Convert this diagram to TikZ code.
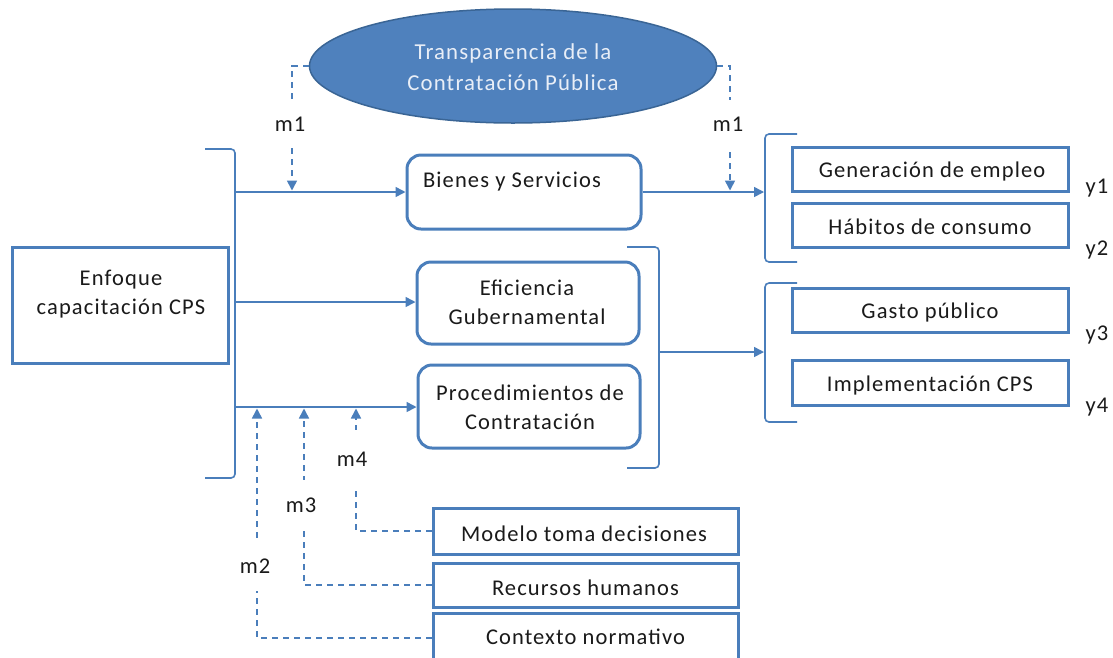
\documentclass[tikz,border=0pt]{standalone}
\usepackage{fontspec}
\setmainfont{Carlito}[LetterSpace=5]
\usetikzlibrary{arrows.meta,shapes.geometric}
\definecolor{ln}{HTML}{4A7EBB}
\definecolor{ellfill}{HTML}{4F81BD}
\definecolor{elldraw}{HTML}{3A6595}
\definecolor{etext}{HTML}{E8EEF7}
\definecolor{tx}{HTML}{1A1A1A}
\begin{document}
\begin{tikzpicture}[x=1pt,y=-1pt,
  font=\fontsize{22.5}{29}\selectfont,
  box/.style={draw=ln, line width=3pt, inner sep=0pt},
  rbox/.style={box, rounded corners=14pt},
  txt/.style={text=tx, align=center, inner sep=0pt},
  conn/.style={draw=ln, line width=1.6pt, -{Triangle[length=10pt,width=10pt]}},
  brk/.style={draw=ln, line width=1.6pt, rounded corners=4pt},
  dsh/.style={draw=ln, line width=1.6pt, dash pattern=on 6pt off 5pt},
  dsharr/.style={dsh, -{Triangle[length=10pt,width=10pt]}},
  lab/.style={text=tx, fill=white, inner sep=0pt, minimum width=30pt},
]
\clip (0,0) rectangle (1113,657);
\fill[white] (0,0) rectangle (1113,657);

% ellipse
\node[ellipse, draw=elldraw, fill=ellfill, line width=1.5pt, minimum width=407pt, minimum height=114pt, inner sep=0pt] (ell) at (513,66) {};
\node[text=etext, align=center, inner sep=0pt, font=\fontsize{22.8}{31}\selectfont] (ellT) at (513,67) {Transparencia de la\\Contratación Pública};

% left box
\node[box, minimum width=216pt, minimum height=116pt] (enf) at (120,305) {};
\node[txt] (enfT) at (121,294) {Enfoque\\capacitación CPS};

% middle boxes
\node[rbox, minimum width=234pt, minimum height=74pt] (bienes) at (524,192) {};
\node[txt] (bienesT) at (512,182) {Bienes y Servicios};
\node[rbox, minimum width=222pt, minimum height=82pt] (efi) at (528,303) {};
\node[txt] (efiT) at (527,302) {Eficiencia\\Gubernamental};
\node[rbox, minimum width=222pt, minimum height=83pt] (proc) at (529,406.5) {};
\node[txt] (procT) at (530,407) {Procedimientos de\\Contratación};

% right boxes
\node[box, minimum width=276pt, minimum height=44pt] (gen) at (930,169) {};
\node[txt] (genT) at (932,171) {Generación de empleo};
\node[box, minimum width=276pt, minimum height=44pt] (hab) at (930,225) {};
\node[txt] (habT) at (930,227) {Hábitos de consumo};
\node[box, minimum width=276pt, minimum height=44pt] (gas) at (930,310) {};
\node[txt] (gasT) at (930,312) {Gasto público};
\node[box, minimum width=276pt, minimum height=45pt] (imp) at (930,382.5) {};
\node[txt] (impT) at (930,385) {Implementación CPS};

% bottom boxes
\node[box, minimum width=305pt, minimum height=46pt] (mod) at (585.5,531) {};
\node[txt] (modT) at (584,534) {Modelo toma decisiones};
\node[box, minimum width=305pt, minimum height=44pt] (rec) at (585.5,585) {};
\node[txt] (recT) at (585.5,588) {Recursos humanos};
\node[box, minimum width=305pt, minimum height=50pt] (ctx) at (585.5,638) {};
\node[txt] (ctxT) at (585.5,637) {Contexto normativo};

% y labels
\node[txt] (y1) at (1097,188) {y1};
\node[txt] (y2) at (1097,250) {y2};
\node[txt] (y3) at (1097,335) {y3};
\node[txt] (y4) at (1097,407) {y4};

% coordinates
\coordinate (lb1) at (235,192);
\coordinate (lb2) at (235,302);
\coordinate (lb3) at (235,407);
\coordinate (mbo) at (659,352);
\coordinate (rb1) at (764,192);
\coordinate (rb2) at (764,352);
\coordinate (t1l) at (292,190.5);
\coordinate (t1r) at (730,190.5);
\coordinate (t2) at (257,408.5);
\coordinate (t3) at (304,408.5);
\coordinate (t4) at (356,408.5);

% brackets
\draw[brk] (205,149) -- (235,149) -- (235,478) -- (205,478);
\draw[brk] (627,247) -- (659,247) -- (659,468) -- (627,468);
\draw[brk] (797,134) -- (765,134) -- (765,262) -- (797,262);
\draw[brk] (797,283) -- (765,283) -- (765,422) -- (797,422);

% solid connectors
\draw[conn] (lb1) -- (lb1 -| bienes.west);
\draw[conn] (lb2) -- (lb2 -| efi.west);
\draw[conn] (lb3) -- (lb3 -| proc.west);
\draw[conn] (bienes.east) -- (rb1);
\draw[conn] (mbo) -- (rb2);

% dashed moderators
\draw[dsharr] (ell.west) -| (t1l);
\draw[dsharr] (ell.east) -| (t1r);
\draw[dsharr] (mod.west) -| (t4);
\draw[dsharr] (rec.west) -| (t3);
\draw[dsharr] (ctx.west) -| (t2);

% moderator labels
\node[lab, minimum height=48pt] (m1l) at (290,124) {m1};
\node[lab, minimum height=48pt] (m1r) at (728,124) {m1};
\node[lab, minimum height=58pt] (m4) at (352,459) {m4};
\node[lab, minimum height=50pt] (m3) at (301,505) {m3};
\node[lab, minimum height=50pt] (m2) at (255,566) {m2};
\end{tikzpicture}
\end{document}
